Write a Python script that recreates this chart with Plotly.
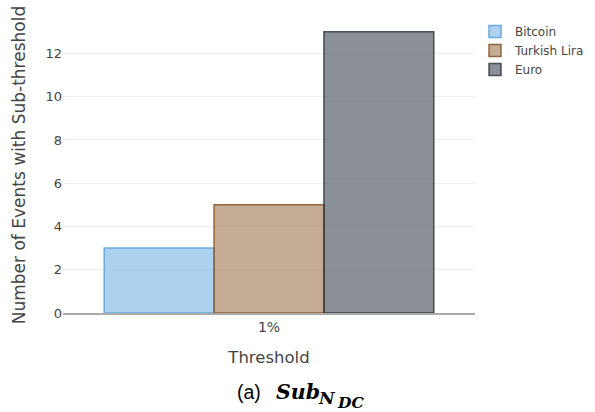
import plotly.graph_objects as go

categories = ["1%"]
series_names = ["Bitcoin", "Turkish Lira", "Euro"]
bitcoin = [3]
turkish_lira = [5]
euro = [13]

fills = ["rgba(93,164,222,0.5)", "rgba(139,90,43,0.5)", "rgba(23,33,46,0.5)"]
lines = ["rgba(93,164,222,0.9)", "rgba(139,90,43,0.9)", "rgba(40,48,58,0.8)"]

W, H = 595, 412
L, R, T, B = 63, 120, 17, 99
PW, PH = W - L - R, H - T - B

def px(x):
    return (x - L) / PW

def py(y):
    return (H - B - y) / PH

fig = go.Figure()
for name, vals, fc, lc in zip(series_names, [bitcoin, turkish_lira, euro], fills, lines):
    fig.add_trace(go.Bar(x=categories, y=vals, name=name,
                         marker=dict(color=fc, line=dict(color=lc, width=1.5))))

serif = "DejaVu Serif, serif"
cap = [
    dict(text="(a)", x=px(249), y=py(392), xanchor="center",
         font=dict(size=19.5, color="black", family="Liberation Sans, Arial")),
    dict(text="<b><i>Sub</i></b>", x=px(274), y=py(392), xanchor="left",
         font=dict(size=20.5, color="black", family=serif)),
    dict(text="<b><i>N</i></b>", x=px(316), y=py(398), xanchor="left",
         font=dict(size=17, color="black", family=serif)),
    dict(text="<b><i>DC</i></b>", x=px(335), y=py(402), xanchor="left",
         font=dict(size=15.5, color="black", family=serif)),
]
for a in cap:
    a.update(xref="paper", yref="paper", yanchor="middle", showarrow=False)

fig.update_layout(
    width=W, height=H,
    barmode="group", bargap=0.2, bargroupgap=0,
    paper_bgcolor="white", plot_bgcolor="white",
    font=dict(family="DejaVu Sans, Verdana, sans-serif", color="#444", size=12),
    margin=dict(l=L, r=R, t=T, b=B, autoexpand=False),
    xaxis=dict(title=dict(text="Threshold", font=dict(size=16.5), standoff=18),
               automargin=False,
               showline=True, linecolor="#aaa", linewidth=2, ticks="", tickfont=dict(size=14)),
    yaxis=dict(title=dict(text="Number of Events with Sub-threshold", font=dict(size=17)),
               automargin=False,
               gridcolor="#f0f0f0", zeroline=False, dtick=2, tickfont=dict(size=13)),
    legend=dict(x=1.0, y=1.0, xanchor="left", yanchor="top", font=dict(size=12)),
    annotations=cap,
)
fig.write_html("out.html", config={"displayModeBar": False},
               post_script="document.body.style.margin='0';")
